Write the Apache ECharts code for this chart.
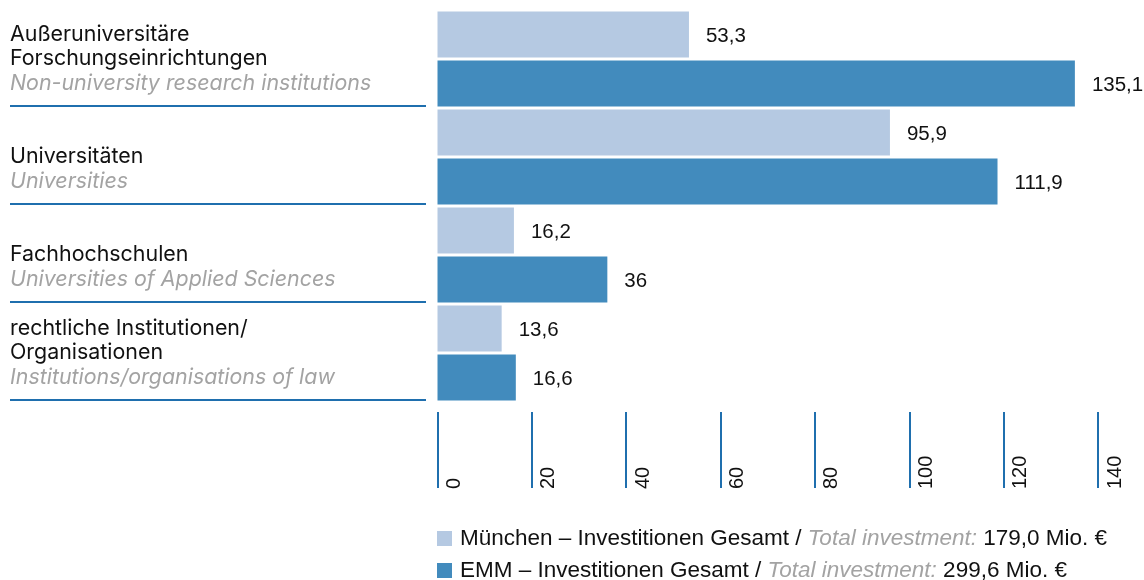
<!DOCTYPE html>
<html><head><meta charset="utf-8">
<script src="https://cdn.jsdelivr.net/npm/echarts@6/dist/echarts.min.js"></script>
<style>html,body{margin:0;padding:0;background:#fff}#chart{width:1144px;height:580px}</style>
</head><body><div id="chart"></div>
<script>
const categoriesDe = ['Außeruniversitäre\nForschungseinrichtungen', 'Universitäten', 'Fachhochschulen', 'rechtliche Institutionen/\nOrganisationen'];
const categoriesEn = ['Non-university research institutions', 'Universities', 'Universities of Applied Sciences', 'Institutions/organisations of law'];
const muenchenValues = [53.3, 95.9, 16.2, 13.6];
// bar lengths as drawn in the picture (the Universities bar is drawn at ~118.7 although printed as 111,9)
const emmValues = [135.1, 118.7, 36, 16.6];
// value labels as printed in the picture
const muenchenLabels = ['53,3', '95,9', '16,2', '13,6'];
const emmLabels = ['135,1', '111,9', '36', '16,6'];
const xTicks = [0, 20, 40, 60, 80, 100, 120, 140];
const seriesNames = ['München – Investitionen Gesamt', 'EMM – Investitionen Gesamt'];
const legendTotals = ['179,0 Mio. €', '299,6 Mio. €'];

const BLUE_LINE = '#1f6fae';
const TEXT = '#111111';
const GRAY = '#a3a3a3';

const chart = echarts.init(document.getElementById('chart'));
const valueLabel = labels => ({
  show: true, position: 'right', distance: 17, offset: [0, 2],
  formatter: p => labels[p.dataIndex],
  fontSize: 20.5, color: TEXT, fontFamily: 'Liberation Sans'
});
const makeLegend = (i, top) => ({
  orient: 'vertical', left: 437, top: top, padding: 0, itemWidth: 15, itemHeight: 15,
  icon: 'rect', selectedMode: false,
  data: [seriesNames[i]],
  formatter: name => '{b|' + name + ' /}{i| Total investment:}{t| ' + legendTotals[i] + '}',
  textStyle: {
    rich: {
      b: { fontSize: 22.5, color: TEXT, fontFamily: 'Liberation Sans', lineHeight: 20, padding: [0, 0, 0, 3] },
      i: { fontSize: 22.5, color: GRAY, fontStyle: 'italic', fontFamily: 'Liberation Sans', lineHeight: 20 },
      t: { fontSize: 22.5, color: TEXT, fontFamily: 'Liberation Sans', lineHeight: 20 }
    }
  }
});
const option = {
  animation: false,
  grid: { left: 437.5, right: 46, top: 10, bottom: 178, outerBoundsMode: 'none', containLabel: false },
  xAxis: {
    type: 'value', min: xTicks[0], max: xTicks[xTicks.length - 1], interval: xTicks[1] - xTicks[0],
    position: 'bottom', offset: 10,
    axisLine: { show: false },
    axisTick: { show: true, length: 76, inside: false, lineStyle: { color: BLUE_LINE, width: 2 } },
    splitLine: { show: false },
    axisLabel: { rotate: 90, align: 'left', verticalAlign: 'top', margin: 77, fontSize: 20,
      fontFamily: 'Liberation Sans', color: TEXT, padding: [7, 0, 0, 0] }
  },
  yAxis: {
    type: 'category', inverse: true, data: categoriesDe,
    axisLine: { show: false }, axisTick: { show: false }, splitLine: { show: false },
    axisLabel: {
      align: 'left', verticalAlign: 'middle', margin: 427.5,
      formatter: (v, i) => {
        const de = categoriesDe[i].split('\n');
        const lines = [];
        for (let k = de.length; k < 2; k++) lines.push('{de| }');
        de.forEach(l => lines.push('{de|' + l + '}'));
        lines.push('{en|' + categoriesEn[i] + '}');
        return lines.join('\n');
      },
      rich: {
        de: { fontFamily: 'Inter', fontSize: 21.4, color: TEXT, lineHeight: 24.5 },
        en: { fontFamily: 'Inter', fontSize: 21.4, fontStyle: 'italic', color: GRAY, lineHeight: 24.5 }
      }
    }
  },
  legend: [makeLegend(0, 527), makeLegend(1, 559)],
  series: [
    { type: 'bar', name: seriesNames[0], data: muenchenValues, barWidth: 46, barGap: '7%',
      itemStyle: { color: '#b5c9e2' }, label: valueLabel(muenchenLabels) },
    { type: 'bar', name: seriesNames[1], data: emmValues, barWidth: 46, barGap: '7%',
      itemStyle: { color: '#428bbd' }, label: valueLabel(emmLabels) }
  ]
};
chart.setOption(option);

const c0 = chart.convertToPixel({ yAxisIndex: 0 }, 0);
const c1 = chart.convertToPixel({ yAxisIndex: 0 }, 1);
const band = Math.abs(c1 - c0);
const sepLines = categoriesDe.map((c, i) => {
  const yc = chart.convertToPixel({ yAxisIndex: 0 }, i);
  const y = Math.round(yc + band / 2 - 2);
  return { type: 'line', shape: { x1: 10, y1: y, x2: 426, y2: y }, style: { stroke: BLUE_LINE, lineWidth: 2 } };
});
chart.setOption({ graphic: sepLines });
</script>
</body></html>
